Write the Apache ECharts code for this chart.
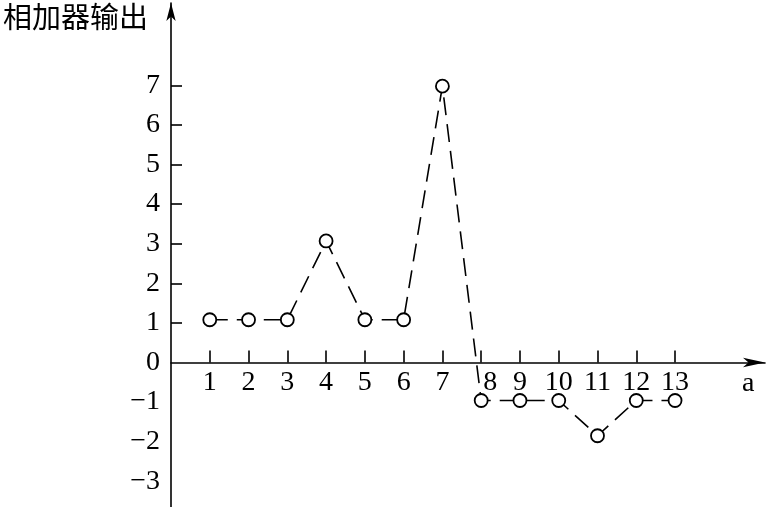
<!DOCTYPE html>
<html><head><meta charset="utf-8">
<script src="https://cdn.jsdelivr.net/npm/echarts@6/dist/echarts.min.js"></script>
<style>html,body{margin:0;padding:0;background:#fff}#c{width:767px;height:507px}</style>
</head><body><div id="c"></div>
<script>
var xValues = [1,2,3,4,5,6,7,8,9,10,11,12,13];
var yValues = [1.08,1.08,1.08,3.07,1.08,1.08,6.98,-0.96,-0.96,-0.96,-1.85,-0.96,-0.96];
var yTickValues = [1,2,3,4,5,6,7];
var yLabelValues = [-3,-2,-1,0,1,2,3,4,5,6,7];
var xAxisName = 'a';
var yAxisName = '相加器输出';

var serif = '"Liberation Serif", "DejaVu Serif", serif';
var gridTop = 3, gridBottom = 0, H = 507;
var yMin = -3.65, yMax = 9.08;
var plotH = H - gridTop - gridBottom;
var zeroFromBottom = plotH * (0 - yMin) / (yMax - yMin);

var chart = echarts.init(document.getElementById('c'), null, {renderer:'canvas'});
var pts = xValues.map(function(x,i){return [x, yValues[i]];});
chart.setOption({
  backgroundColor:'#fff',
  animation:false,
  grid:{left:171, right:2, top:gridTop, bottom:gridBottom, containLabel:false, outerBoundsMode:'none'},
  xAxis:{
    type:'value', min:0, max:15.32, position:'bottom', offset:-zeroFromBottom,
    name:xAxisName, nameLocation:'end', nameGap:-23,
    nameTextStyle:{fontFamily:serif, fontSize:28, color:'#000', verticalAlign:'top', padding:[7,0,0,0]},
    axisLine:{onZero:false, lineStyle:{color:'#000', width:1.6}, symbol:['none','arrow'], symbolSize:[7,22]},
    axisTick:{show:true, inside:true, length:12, lineStyle:{color:'#000', width:1.6}, customValues:xValues},
    axisLabel:{customValues:xValues, fontFamily:serif, fontSize:28, color:'#000', margin:6,
      formatter:function(v){return v===8 ? '{s|8}' : String(v);},
      rich:{s:{fontFamily:serif, fontSize:28, color:'#000', padding:[0,0,0,18]}}},
    splitLine:{show:false}
  },
  yAxis:{
    type:'value', min:yMin, max:yMax,
    name:yAxisName, nameLocation:'end', nameGap:-14,
    nameTextStyle:{fontFamily:'"Noto Sans CJK SC", sans-serif', fontSize:29, color:'#000', align:'right', verticalAlign:'middle', padding:[0,23,0,0]},
    axisLine:{onZero:false, lineStyle:{color:'#000', width:1.6}, symbol:['none','arrow'], symbolSize:[7,18]},
    axisTick:{show:true, inside:true, length:11, lineStyle:{color:'#000', width:1.6}, customValues:yTickValues},
    axisLabel:{customValues:yLabelValues, fontFamily:serif, fontSize:28, color:'#000', margin:11,
      formatter:function(v){return v<0 ? '\u2212'+Math.abs(v) : String(v);}},
    splitLine:{show:false}
  },
  series:[{
    type:'line', data:pts,
    symbol:'circle', symbolSize:13,
    itemStyle:{color:'#fff', borderColor:'#000', borderWidth:1.8},
    lineStyle:{color:'#000', width:1.6, type:[18,9]},
    z:3
  }]
});
</script></body></html>
